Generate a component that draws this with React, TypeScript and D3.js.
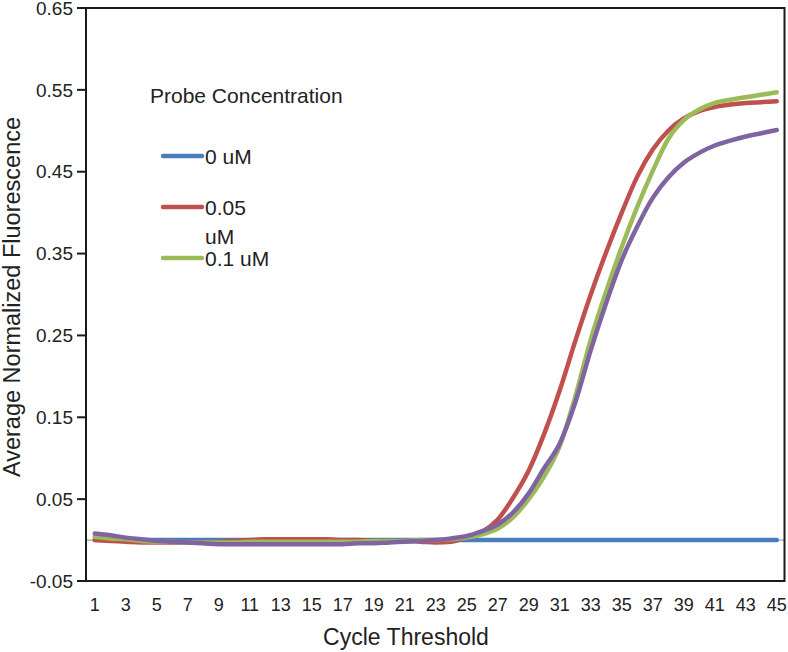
import React from "react";
import * as d3 from "d3";

const cycles: number[] = d3.range(1, 46);
const xTickLabels: number[] = [1,3,5,7,9,11,13,15,17,19,21,23,25,27,29,31,33,35,37,39,41,43,45];
const yTicks: number[] = [-0.05, 0.05, 0.15, 0.25, 0.35, 0.45, 0.55, 0.65];
const yTickLabels: string[] = ["-0.05", "0.05", "0.15", "0.25", "0.35", "0.45", "0.55", "0.65"];

const seriesNames: string[] = ["0 uM", "0.05 uM", "0.1 uM", "0.2 uM"];
const seriesColors: string[] = ["#4A7EBB", "#C0504D", "#9BBB59", "#8064A2"];

const blue0uM: number[] = [
  0,0,0,0,0,0,0,0,0,0, 0,0,0,0,0,0,0,0,0,0, 0,0,0,0,0,0,0,0,0,0, 0,0,0,0,0,0,0,0,0,0, 0,0,0,0,0,
];
const red005uM: number[] = [
  0.000,-0.001,-0.002,-0.003,-0.003,-0.003,-0.003,-0.003,-0.002,-0.001,
  0.000,0.001,0.001,0.001,0.001,0.001,0.000,0.000,-0.001,-0.001,
  -0.001,-0.002,-0.003,-0.002,0.003,0.010,0.025,0.052,0.085,0.130,
  0.183,0.243,0.300,0.352,0.400,0.444,0.477,0.500,0.515,0.524,
  0.529,0.532,0.534,0.535,0.536,
];
const green01uM: number[] = [
  0.004,0.002,0.001,-0.001,-0.002,-0.002,-0.003,-0.003,-0.003,-0.003,
  -0.002,-0.002,-0.002,-0.002,-0.002,-0.002,-0.002,-0.002,-0.001,-0.001,
  -0.001,0.000,0.000,0.001,0.003,0.007,0.014,0.028,0.050,0.078,
  0.115,0.175,0.245,0.304,0.358,0.407,0.451,0.490,0.513,0.526,
  0.534,0.538,0.541,0.544,0.547,
];
const purple02uM: number[] = [
  0.008,0.006,0.003,0.001,-0.001,-0.002,-0.003,-0.004,-0.005,-0.005,
  -0.005,-0.005,-0.005,-0.005,-0.005,-0.005,-0.005,-0.004,-0.004,-0.003,
  -0.002,-0.001,0.000,0.002,0.005,0.011,0.019,0.034,0.057,0.088,
  0.118,0.168,0.232,0.290,0.342,0.383,0.418,0.443,0.461,0.473,
  0.482,0.488,0.493,0.497,0.501,
];
const allSeries: number[][] = [blue0uM, red005uM, green01uM, purple02uM];

const W = 788, H = 652;
const left = 87, right = 784.5, top = 8, bottom = 581;
const FONT = "'Liberation Sans', Arial, sans-serif";

export default function App() {
  const x = d3.scalePoint<number>().domain(cycles).range([left, right]).padding(0.5);
  const y = d3.scaleLinear().domain([-0.05, 0.65]).range([bottom, top]);
  const line = d3.line<number>()
    .x((_, i) => x(cycles[i]) as number)
    .y((d) => y(d))
    .curve(d3.curveMonotoneX);

  const legendItems = [
    { idx: 0, ly: 156, lines: ["0 uM"] },
    { idx: 1, ly: 207, lines: ["0.05", "uM"] },
    { idx: 2, ly: 258, lines: ["0.1 uM"] },
  ];

  return (
    <svg width={W} height={H} style={{ position: "absolute", left: 0, top: 0, background: "#fff" }}
      fontFamily={FONT}>
      <line x1={left} x2={right} y1={y(0)} y2={y(0)} stroke="#A6A6A6" strokeWidth={1.2} />
      {allSeries.map((s, i) => (
        <path key={seriesNames[i]} d={line(s) || ""} fill="none" stroke={seriesColors[i]} strokeWidth={4.5}
          strokeLinejoin="round" strokeLinecap="round" />
      ))}
      <rect x={left - 1} y={top} width={right - left + 1} height={bottom - top} fill="none" stroke="#1a1a1a" strokeWidth={2} />
      {yTicks.map((t, i) => (
        <g key={t}>
          <line x1={left - 10} x2={left - 1} y1={y(t)} y2={y(t)} stroke="#1a1a1a" strokeWidth={2} />
          <text x={73} y={y(t)} dy="0.35em" textAnchor="end" fontSize={19} fill="#222">
            {yTickLabels[i]}
          </text>
        </g>
      ))}
      {xTickLabels.map((c) => (
        <text key={c} x={x(c) as number} y={611} textAnchor="middle" fontSize={18} fill="#222">{c}</text>
      ))}
      <text x={406} y={645} textAnchor="middle" fontSize={23} fill="#222">Cycle Threshold</text>
      <text transform={`translate(20,297) rotate(-90)`} textAnchor="middle" fontSize={23.5} fill="#222">
        Average Normalized Fluorescence
      </text>
      <text x={150} y={103} fontSize={21} fill="#222">Probe Concentration</text>
      {legendItems.map((it) => (
        <g key={it.idx}>
          <line x1={163} x2={202} y1={it.ly} y2={it.ly} stroke={seriesColors[it.idx]} strokeWidth={4.5} strokeLinecap="round" />
          {it.lines.map((t, j) => (
            <text key={j} x={205} y={it.ly + 7.5 + j * 29} fontSize={21} fill="#222">{t}</text>
          ))}
        </g>
      ))}
    </svg>
  );
}
